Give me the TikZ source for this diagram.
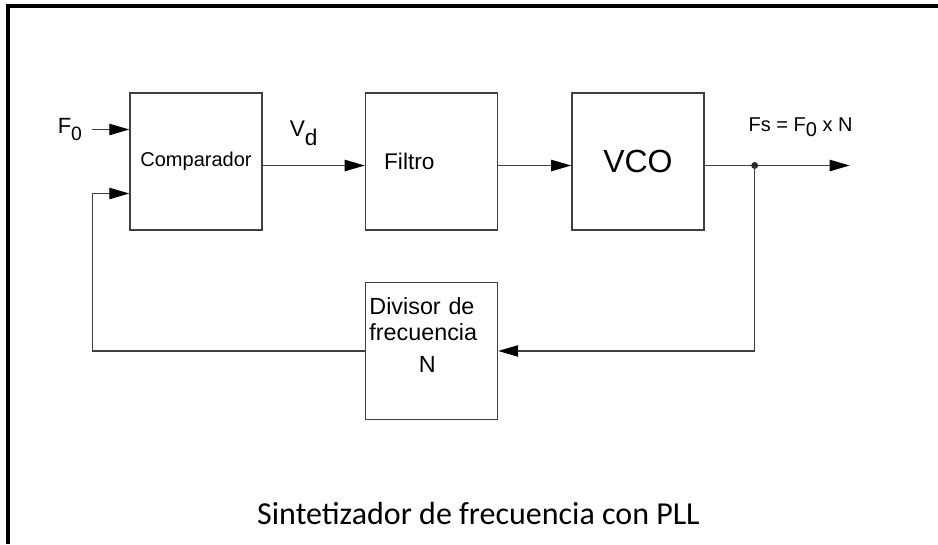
\documentclass[tikz,border=0pt]{standalone}
\usepackage{fontspec}
\setmainfont{Liberation Sans}
\newfontfamily\capfont{Carlito}
\usetikzlibrary{arrows.meta,positioning}

\begin{document}
\begin{tikzpicture}[x=0.75pt,y=-0.75pt, >={Triangle[length=15pt,width=8.5pt,color=black]},
  blk/.style={draw=black!75,line width=1.1pt,fill=white,minimum width=99pt,minimum height=102.75pt,inner sep=0pt},
  wire/.style={draw=black!75,line width=0.9pt},
  lbl/.style={inner sep=0pt}]
  \useasboundingbox (0,0) rectangle (938,544);
  \draw[line width=2.3pt] (8,544) -- (8,6) -- (938,6);
  % forward chain
  \node[blk,font=\fontsize{15}{18}\selectfont] (comp) at (196,161.5) {Comparador};
  \node[blk,right=76.5pt of comp,font=\fontsize{17}{20}\selectfont,align=left,text width=71pt,inner xsep=14pt] (filt) {Filtro};
  \node[blk,right=54.75pt of filt,font=\fontsize{24}{26}\selectfont] (vco) {VCO};
  \node[blk,below=38.25pt of filt,font=\fontsize{17.5}{19.5}\selectfont,align=left,text width=93pt,inner xsep=3pt] (div)
    {Divisor de\\frecuencia\\[4.5pt]\hspace*{37pt}N\\[5pt]\mbox{}};
  \coordinate (jn) at ([xshift=37.5pt,yshift=-3pt]vco.east);
  \coordinate (out) at ([xshift=71.25pt]jn);
  \coordinate (f0in) at ([xshift=-27.75pt,yshift=24pt]comp.west);
  \coordinate (fbk) at ([xshift=-27.75pt,yshift=-24pt]comp.west);
  \draw[wire,->] (f0in) -- ([yshift=24pt]comp.west);
  \draw[wire,->] ([yshift=-3pt]comp.east) -- ([yshift=-3pt]filt.west);
  \draw[wire,->] ([yshift=-3pt]filt.east) -- ([yshift=-3pt]vco.west);
  \draw[wire,->] ([yshift=-3pt]vco.east) -- (out);
  \fill[black!85] (jn) circle (2.6pt);
  % feedback loop
  \draw[wire,->] (jn) |- (div.east);
  \draw[wire,->] (div.west) -| (fbk) -- ([yshift=-24pt]comp.west);
  % labels
  \node[lbl,left=7.5pt of f0in,font=\fontsize{16.5}{18}\selectfont] (f0) {F\raisebox{-5.5pt}{\fontsize{14.5}{14}\selectfont 0}};
  \node[lbl,font=\fontsize{17}{20}\selectfont] (vd) at ([xshift=30.75pt,yshift=21pt]comp.east) {V\raisebox{-6.5pt}{d}};
  \node[lbl,font=\fontsize{15}{18}\selectfont] (fs) at ([xshift=34.5pt,yshift=28.5pt]jn) {Fs = F\raisebox{-4pt}{0} x N};
  \node[font=\capfont\fontsize{24}{28}\selectfont] (cap) at (478.5,513) {Sintetizador de frecuencia con PLL};
\end{tikzpicture}
\end{document}
